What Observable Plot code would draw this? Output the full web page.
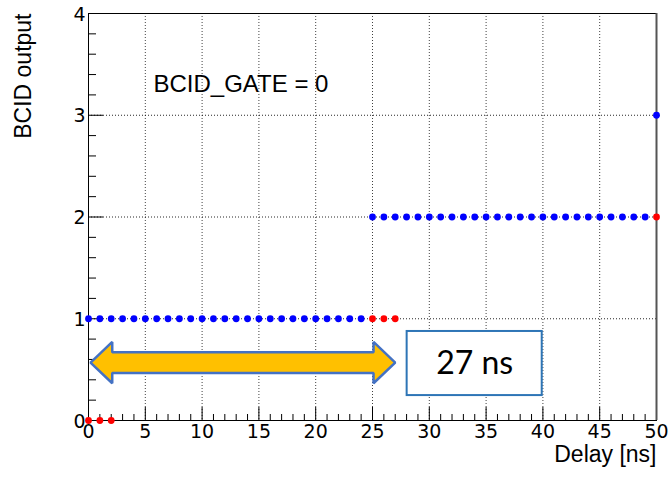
<!DOCTYPE html>
<html>
<head>
<meta charset="utf-8">
<script src="https://cdn.jsdelivr.net/npm/d3@7"></script>
<script src="https://cdn.jsdelivr.net/npm/@observablehq/plot@0.6"></script>
<style>
  html, body { margin: 0; padding: 0; background: #fff; }
  #chart svg { display: block; }
</style>
</head>
<body>
<div id="chart"></div>
<script>
// ---- data ----
const blueX = [0,1,2,3,4,5,6,7,8,9,10,11,12,13,14,15,16,17,18,19,20,21,22,23,24,25,26,27,28,29,30,31,32,33,34,35,36,37,38,39,40,41,42,43,44,45,46,47,48,49,50];
const blueY = [1,1,1,1,1,1,1,1,1,1,1,1,1,1,1,1,1,1,1,1,1,1,1,1,1,2,2,2,2,2,2,2,2,2,2,2,2,2,2,2,2,2,2,2,2,2,2,2,2,2,3];
const redX = [0,1,2,25,26,27,50];
const redY = [0,0,0,1,1,1,2];

const xMajor = [0,5,10,15,20,25,30,35,40,45,50];
const xGrid = [5,10,15,20,25,30,35,40,45];
const yMajor = [0,1,2,3,4];
const yGrid = [1,2,3];
const xMinor = d3.range(0, 51, 1).filter(v => v % 5 !== 0);
const yMinor = d3.range(1, 20).filter(v => v % 5 !== 0).map(v => v / 5);

// annotations (data units)
const arrowSpan = {tipL: 0.18, baseL: 2.09, baseR: 25.09, tipR: 27.0, yc: 0.569, head: 0.203, shaft: 0.101};
const boxSpan = {x1: 28.05, x2: 39.94, y1: 0.245, y2: 0.875};
const boxLabel = "27 ns";
const gateLabel = "BCID_GATE = 0";
const gatePos = {x: 5.72, y: 3.30};

const blue = blueX.map((x, i) => ({x, y: blueY[i]}));
const red = redX.map((x, i) => ({x, y: redY[i]}));
const a = arrowSpan;
const arrowPts = [
  [a.tipL, a.yc], [a.baseL, a.yc + a.head], [a.baseL, a.yc + a.shaft], [a.baseR, a.yc + a.shaft],
  [a.baseR, a.yc + a.head], [a.tipR, a.yc], [a.baseR, a.yc - a.head], [a.baseR, a.yc - a.shaft],
  [a.baseL, a.yc - a.shaft], [a.baseL, a.yc - a.head]
];

const tickFont = "DejaVu Sans";
const labelFont = "Liberation Sans";

const plot = Plot.plot({
  width: 669,
  height: 480,
  marginLeft: 88,
  marginRight: 13,
  marginTop: 13,
  marginBottom: 60,
  x: {domain: [0, 50], axis: null},
  y: {domain: [0, 4], axis: null},
  style: {background: "#fff", fontFamily: labelFont},
  marks: [
    // grid
    Plot.ruleX(xGrid, {x: d => d, stroke: "#000", strokeWidth: 1, strokeDasharray: "1,2", strokeOpacity: 0.75}),
    Plot.ruleY(yGrid, {y: d => d, stroke: "#000", strokeWidth: 1, strokeDasharray: "1,2", strokeOpacity: 0.85}),
    // ticks
    Plot.ruleX(xMajor, {x: d => d, insetTop: 394, stroke: "#000"}),
    Plot.ruleX(xMinor, {x: d => d, insetTop: 401, stroke: "#000"}),
    Plot.ruleY(yMajor, {y: d => d, insetRight: 553, stroke: "#000"}),
    Plot.ruleY(yMinor, {y: d => d, insetRight: 560, stroke: "#000"}),
    Plot.frame({stroke: "#000", strokeWidth: 1}),
    Plot.ruleX([50], {x: d => d, stroke: "#555", strokeWidth: 2}),
    // tick labels
    Plot.text(xMajor, {x: d => d, text: d => String(d), frameAnchor: "bottom", dy: 17, fontSize: 19, fontFamily: tickFont, fill: "#000"}),
    Plot.text(yMajor, {y: d => d, text: d => String(d), frameAnchor: "left", dx: -3, dy: 1, textAnchor: "end", fontSize: 19, fontFamily: tickFont, fill: "#000"}),
    // axis titles
    Plot.text(["BCID output"], {frameAnchor: "top-left", dx: -74, rotate: -90, textAnchor: "end", fontSize: 23, fontFamily: labelFont, fill: "#000"}),
    Plot.text(["Delay [ns]"], {frameAnchor: "bottom-right", dy: 41, textAnchor: "end", fontSize: 23, fontFamily: labelFont, fill: "#000"}),
    // data
    Plot.dot(blue, {x: "x", y: "y", r: 3.4, fill: "#0000ff", stroke: "none"}),
    Plot.dot(red, {x: "x", y: "y", r: 3.4, fill: "#ff0000", stroke: "none"}),
    // annotations
    Plot.text([gateLabel], {x: () => gatePos.x, y: () => gatePos.y, text: d => d, textAnchor: "start", fontSize: 24, fontFamily: labelFont, fill: "#000"}),
    Plot.line(arrowPts, {x: d => d[0], y: d => d[1], curve: "linear-closed", fill: "#FFC000", stroke: "#4472C4", strokeWidth: 2.5, strokeLinejoin: "miter"}),
    Plot.rect([boxSpan], {x1: "x1", x2: "x2", y1: "y1", y2: "y2", fill: "#fff", stroke: "#2E75B6", strokeWidth: 2}),
    Plot.text([boxLabel], {x: () => (boxSpan.x1 + boxSpan.x2) / 2, y: () => (boxSpan.y1 + boxSpan.y2) / 2, text: d => d, fontSize: 32, fontFamily: "Lato", fill: "#000"})
  ]
});
document.getElementById("chart").appendChild(plot);
</script>
</body>
</html>
